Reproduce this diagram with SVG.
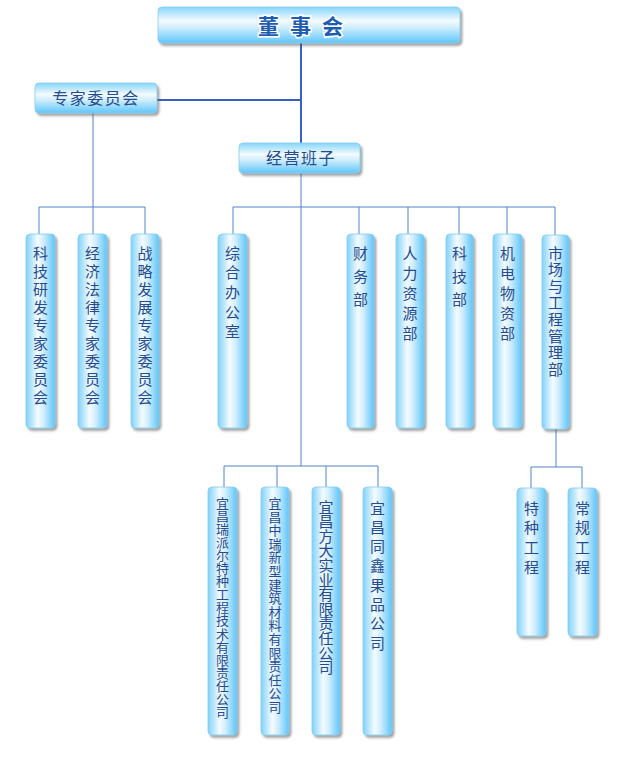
<svg xmlns="http://www.w3.org/2000/svg" width="630" height="773" viewBox="0 0 630 773">
<style>
.box{stroke:#86cdf0;stroke-width:0.8;filter:url(#sh)}
.h{fill:url(#gh)}
.v{fill:url(#gv)}
.t{font-family:"Noto Sans CJK SC","Noto Sans",sans-serif;fill:#274c8c;text-anchor:middle}
.thick{stroke:#3a5ec4;stroke-width:2;fill:none}
.thin{stroke:#5283c6;stroke-width:1;fill:none}
</style>
<defs>
<linearGradient id="gh" x1="0" y1="0" x2="0" y2="1">
<stop offset="0" stop-color="#86d5fa"/>
<stop offset="0.38" stop-color="#f4fbff"/>
<stop offset="0.55" stop-color="#d4effd"/>
<stop offset="1" stop-color="#60c6fa"/>
</linearGradient>
<linearGradient id="gv" x1="0" y1="0" x2="1" y2="0">
<stop offset="0" stop-color="#80d2f9"/>
<stop offset="0.4" stop-color="#f4fbff"/>
<stop offset="0.6" stop-color="#d2eefd"/>
<stop offset="1" stop-color="#5ec5fa"/>
</linearGradient>
<filter id="sh" x="-20%" y="-20%" width="150%" height="150%">
<feDropShadow dx="2" dy="2.5" stdDeviation="1.2" flood-color="#555" flood-opacity="0.55"/>
</filter>
</defs>

<g id="connectors">
<path class="thick" d="M301 43V143M157 100H301"/>
<path class="thin" d="M93 113V207M39 234V207H145V234M93 207V234"/>
<path class="thin" d="M301 173V466M233 234V207H555V235M359 207V234M408 207V234M459 207V234M507 207V234"/>
<path class="thin" d="M224 487V466H378V487M277 466V487M326 466V487"/>
<path class="thin" d="M556 429V467M531 488V467H582V488"/>
</g>

<g id="board">
<rect class="box h" x="158" y="7" width="302" height="36" rx="4"/>
<text class="t" x="306" y="34" font-size="21" font-weight="bold" style="fill:#1d5cae" stroke="#ffffff" stroke-width="3" paint-order="stroke" letter-spacing="11">董事会</text>
</g>

<g id="experts">
<rect class="box h" x="35" y="83" width="122" height="30" rx="4"/>
<text class="t" x="96" y="104" font-size="16" letter-spacing="1.5">专家委员会</text>
</g>

<g id="management">
<rect class="box h" x="239" y="143" width="121" height="30" rx="4"/>
<text class="t" x="301" y="164" font-size="16" letter-spacing="1.5">经营班子</text>
</g>

<g id="n1">
<rect class="box v" x="26" y="234" width="29" height="194" rx="4"/>
<text class="t" font-size="15"><tspan x="40.5" y="258.5">科</tspan><tspan x="40.5" dy="18">技</tspan><tspan x="40.5" dy="18">研</tspan><tspan x="40.5" dy="18">发</tspan><tspan x="40.5" dy="18">专</tspan><tspan x="40.5" dy="18">家</tspan><tspan x="40.5" dy="18">委</tspan><tspan x="40.5" dy="18">员</tspan><tspan x="40.5" dy="18">会</tspan></text>
</g>
<g id="n2">
<rect class="box v" x="78" y="234" width="29" height="194" rx="4"/>
<text class="t" font-size="15"><tspan x="92.5" y="258.5">经</tspan><tspan x="92.5" dy="18">济</tspan><tspan x="92.5" dy="18">法</tspan><tspan x="92.5" dy="18">律</tspan><tspan x="92.5" dy="18">专</tspan><tspan x="92.5" dy="18">家</tspan><tspan x="92.5" dy="18">委</tspan><tspan x="92.5" dy="18">员</tspan><tspan x="92.5" dy="18">会</tspan></text>
</g>
<g id="n3">
<rect class="box v" x="131" y="234" width="28" height="194" rx="4"/>
<text class="t" font-size="15"><tspan x="145" y="258.5">战</tspan><tspan x="145" dy="18">略</tspan><tspan x="145" dy="18">发</tspan><tspan x="145" dy="18">展</tspan><tspan x="145" dy="18">专</tspan><tspan x="145" dy="18">家</tspan><tspan x="145" dy="18">委</tspan><tspan x="145" dy="18">员</tspan><tspan x="145" dy="18">会</tspan></text>
</g>

<g id="n4">
<rect class="box v" x="218" y="234" width="29" height="194" rx="4"/>
<text class="t" font-size="15"><tspan x="232.5" y="258.5">综</tspan><tspan x="232.5" dy="19.7">合</tspan><tspan x="232.5" dy="19.7">办</tspan><tspan x="232.5" dy="19.7">公</tspan><tspan x="232.5" dy="19.7">室</tspan></text>
</g>
<g id="n5">
<rect class="box v" x="347" y="234" width="27" height="194" rx="4"/>
<text class="t" font-size="15"><tspan x="360.5" y="258.5">财</tspan><tspan x="360.5" dy="23">务</tspan><tspan x="360.5" dy="23">部</tspan></text>
</g>
<g id="n6">
<rect class="box v" x="396" y="234" width="28" height="194" rx="4"/>
<text class="t" font-size="15"><tspan x="410" y="258.5">人</tspan><tspan x="410" dy="20">力</tspan><tspan x="410" dy="20">资</tspan><tspan x="410" dy="20">源</tspan><tspan x="410" dy="20">部</tspan></text>
</g>
<g id="n7">
<rect class="box v" x="446" y="234" width="27" height="194" rx="4"/>
<text class="t" font-size="15"><tspan x="459.5" y="258.5">科</tspan><tspan x="459.5" dy="23">技</tspan><tspan x="459.5" dy="23">部</tspan></text>
</g>
<g id="n8">
<rect class="box v" x="493" y="234" width="29" height="194" rx="4"/>
<text class="t" font-size="15"><tspan x="507.5" y="258.5">机</tspan><tspan x="507.5" dy="20">电</tspan><tspan x="507.5" dy="20">物</tspan><tspan x="507.5" dy="20">资</tspan><tspan x="507.5" dy="20">部</tspan></text>
</g>
<g id="n9">
<rect class="box v" x="542" y="235" width="27" height="194" rx="4"/>
<text class="t" font-size="15"><tspan x="555.5" y="258.5">市</tspan><tspan x="555.5" dy="16.6">场</tspan><tspan x="555.5" dy="16.6">与</tspan><tspan x="555.5" dy="16.6">工</tspan><tspan x="555.5" dy="16.6">程</tspan><tspan x="555.5" dy="16.6">管</tspan><tspan x="555.5" dy="16.6">理</tspan><tspan x="555.5" dy="16.6">部</tspan></text>
</g>

<g id="c1">
<rect class="box v" x="208" y="487" width="29" height="248" rx="4"/>
<text class="t" font-size="13"><tspan x="222.5" y="508">宜</tspan><tspan x="222.5" dy="13.05">昌</tspan><tspan x="222.5" dy="13.05">瑞</tspan><tspan x="222.5" dy="13.05">派</tspan><tspan x="222.5" dy="13.05">尔</tspan><tspan x="222.5" dy="13.05">特</tspan><tspan x="222.5" dy="13.05">种</tspan><tspan x="222.5" dy="13.05">工</tspan><tspan x="222.5" dy="13.05">程</tspan><tspan x="222.5" dy="13.05">技</tspan><tspan x="222.5" dy="13.05">术</tspan><tspan x="222.5" dy="13.05">有</tspan><tspan x="222.5" dy="13.05">限</tspan><tspan x="222.5" dy="13.05">责</tspan><tspan x="222.5" dy="13.05">任</tspan><tspan x="222.5" dy="13.05">公</tspan><tspan x="222.5" dy="13.05">司</tspan></text>
</g>
<g id="c2">
<rect class="box v" x="261" y="487" width="28" height="248" rx="4"/>
<text class="t" font-size="13"><tspan x="275" y="508">宜</tspan><tspan x="275" dy="13.6">昌</tspan><tspan x="275" dy="13.6">中</tspan><tspan x="275" dy="13.6">瑞</tspan><tspan x="275" dy="13.6">新</tspan><tspan x="275" dy="13.6">型</tspan><tspan x="275" dy="13.6">建</tspan><tspan x="275" dy="13.6">筑</tspan><tspan x="275" dy="13.6">材</tspan><tspan x="275" dy="13.6">料</tspan><tspan x="275" dy="13.6">有</tspan><tspan x="275" dy="13.6">限</tspan><tspan x="275" dy="13.6">责</tspan><tspan x="275" dy="13.6">任</tspan><tspan x="275" dy="13.6">公</tspan><tspan x="275" dy="13.6">司</tspan></text>
</g>
<g id="c3">
<rect class="box v" x="312" y="487" width="28" height="248" rx="4"/>
<text class="t" font-size="15"><tspan x="326" y="512.5">宜</tspan><tspan x="326" dy="14.6">昌</tspan><tspan x="326" dy="14.6">方</tspan><tspan x="326" dy="14.6">大</tspan><tspan x="326" dy="14.6">实</tspan><tspan x="326" dy="14.6">业</tspan><tspan x="326" dy="14.6">有</tspan><tspan x="326" dy="14.6">限</tspan><tspan x="326" dy="14.6">责</tspan><tspan x="326" dy="14.6">任</tspan><tspan x="326" dy="14.6">公</tspan><tspan x="326" dy="14.6">司</tspan></text>
</g>
<g id="c4">
<rect class="box v" x="363" y="487" width="29" height="248" rx="4"/>
<text class="t" font-size="15"><tspan x="377.5" y="513.5">宜</tspan><tspan x="377.5" dy="19.3">昌</tspan><tspan x="377.5" dy="19.3">同</tspan><tspan x="377.5" dy="19.3">鑫</tspan><tspan x="377.5" dy="19.3">果</tspan><tspan x="377.5" dy="19.3">品</tspan><tspan x="377.5" dy="19.3">公</tspan><tspan x="377.5" dy="19.3">司</tspan></text>
</g>

<g id="e1">
<rect class="box v" x="517" y="488" width="29" height="148" rx="4"/>
<text class="t" font-size="15"><tspan x="531.5" y="513.5">特</tspan><tspan x="531.5" dy="19.7">种</tspan><tspan x="531.5" dy="19.7">工</tspan><tspan x="531.5" dy="19.7">程</tspan></text>
</g>
<g id="e2">
<rect class="box v" x="568" y="488" width="29" height="148" rx="4"/>
<text class="t" font-size="15"><tspan x="582.5" y="513.5">常</tspan><tspan x="582.5" dy="19.7">规</tspan><tspan x="582.5" dy="19.7">工</tspan><tspan x="582.5" dy="19.7">程</tspan></text>
</g>
</svg>
